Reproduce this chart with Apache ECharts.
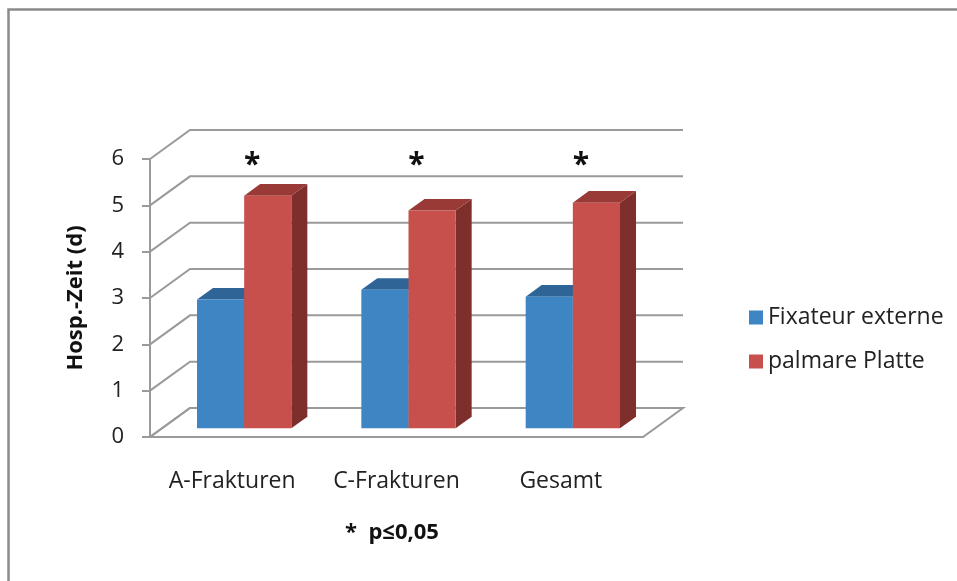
<!DOCTYPE html>
<html>
<head>
<meta charset="utf-8">
<script src="https://cdn.jsdelivr.net/npm/echarts@6/dist/echarts.min.js"></script>
<style>
  html, body { margin: 0; padding: 0; background: #fff; }
  #chart { width: 957px; height: 581px; }
</style>
</head>
<body>
<div id="chart"></div>
<script>
// Hospital stay (days) by fracture type and treatment
const categories = ['A-Frakturen', 'C-Frakturen', 'Gesamt'];
const seriesNames = ['Fixateur externe', 'palmare Platte'];
const fixateurValues = [2.78, 2.99, 2.84];
const platteValues = [5.02, 4.70, 4.87];
const yTicks = [0, 1, 2, 3, 4, 5, 6];
const significant = [true, true, true];
const starLevel = 5.78;
const footnote = '*  p\u22640,05';

// pseudo-3D geometry (pixels / fractions)
const DEPTH_DX = 40, DEPTH_DY = -29;
const BAR_FRONT = 0.3, BAR_BACK = 0.7;
const BAR_RATIO = 0.287;
const FONT = '"Open Sans", "Liberation Sans", sans-serif';
const GRID_COLOR = '#9a9a9a';

const palette = {
  blue: { front: '#3E86C3', top: '#2E6496', side: '#24527C' },
  red:  { front: '#C8504C', top: '#9A3A36', side: '#7E2E2B' }
};

function wallRenderer(params, api) {
  const cs = params.coordSys;
  const v = api.value(1);
  const y = api.coord([0, v])[1];
  const children = [];
  if (v === yTicks[0]) {
    // floor
    children.push({
      type: 'polygon',
      shape: { points: [
        [cs.x, y], [cs.x + cs.width, y],
        [cs.x + cs.width + DEPTH_DX, y + DEPTH_DY], [cs.x + DEPTH_DX, y + DEPTH_DY]
      ] },
      style: { fill: '#fff', stroke: GRID_COLOR, lineWidth: 2 }
    });
  }
  children.push({
    type: 'polyline',
    shape: { points: [
      [cs.x, y], [cs.x + DEPTH_DX, y + DEPTH_DY], [cs.x + cs.width + DEPTH_DX, y + DEPTH_DY]
    ] },
    style: { stroke: GRID_COLOR, lineWidth: 2, fill: null }
  });
  return { type: 'group', children: children };
}

function barRenderer(slot, colors) {
  return function (params, api) {
    const cat = api.value(0), val = api.value(1);
    const base = api.coord([cat, 0]);
    const top = api.coord([cat, val]);
    const band = api.size([1, 0])[0];
    const w = band * BAR_RATIO;
    const xl = base[0] - w + slot * w;
    const xr = xl + w;
    const fx = DEPTH_DX * BAR_FRONT, fy = DEPTH_DY * BAR_FRONT;
    const bx = DEPTH_DX * BAR_BACK, by = DEPTH_DY * BAR_BACK;
    const ty = top[1], by0 = base[1];
    return {
      type: 'group',
      children: [
        { type: 'polygon', shape: { points: [
            [xr + fx, ty + fy], [xr + bx, ty + by], [xr + bx, by0 + by], [xr + fx, by0 + fy]
          ] }, style: { fill: colors.side } },
        { type: 'polygon', shape: { points: [
            [xl + fx, ty + fy], [xr + fx, ty + fy], [xr + bx, ty + by], [xl + bx, ty + by]
          ] }, style: { fill: colors.top } },
        { type: 'rect', shape: { x: xl + fx, y: ty + fy, width: w, height: by0 - ty },
          style: { fill: colors.front } }
      ]
    };
  };
}

function starRenderer(params, api) {
  const p = api.coord([api.value(0), api.value(1)]);
  return {
    type: 'text',
    x: p[0] + DEPTH_DX * 0.5,
    y: p[1] + DEPTH_DY * BAR_FRONT + 5,
    style: {
      text: '*', fill: '#111', font: 'bold 30px ' + FONT,
      align: 'center', verticalAlign: 'middle'
    }
  };
}

const chart = echarts.init(document.getElementById('chart'), null, { renderer: 'canvas' });

chart.setOption({
  backgroundColor: '#fff',
  animation: false,
  grid: { left: 150, right: 314, top: 159, bottom: 144, containLabel: false },
  xAxis: {
    type: 'category',
    data: categories,
    axisLine: { show: true, lineStyle: { color: GRID_COLOR, width: 2 } },
    axisTick: { show: false },
    axisLabel: { color: '#222', fontSize: 23, fontFamily: FONT, margin: 33, interval: 0, hideOverlap: false },
    splitLine: { show: false }
  },
  yAxis: {
    type: 'value',
    min: 0, max: 6, interval: 1,
    name: 'Hosp.-Zeit (d)',
    nameLocation: 'middle',
    nameRotate: 90,
    nameGap: 63,
    nameTextStyle: { color: '#111', fontSize: 22, fontWeight: 'bold', fontFamily: FONT },
    axisLine: { show: true, lineStyle: { color: GRID_COLOR, width: 2 } },
    axisTick: { show: true, length: 8, lineStyle: { color: GRID_COLOR, width: 2 } },
    axisLabel: { color: '#222', fontSize: 22, fontFamily: FONT, margin: 26 },
    splitLine: { show: false }
  },
  legend: {
    orient: 'vertical',
    left: 744,
    top: 301,
    itemWidth: 14,
    itemHeight: 14,
    itemGap: 21,
    icon: 'rect',
    data: seriesNames,
    textStyle: { color: '#222', fontSize: 23, fontFamily: FONT }
  },
  graphic: [
    { type: 'rect', silent: true, z: 100,
      shape: { x: 8.5, y: 9.5, width: 1200, height: 1200 },
      style: { fill: null, stroke: '#8a8a8a', lineWidth: 2.5 } },
    { type: 'text', left: 345, top: 522,
      style: { text: footnote, fill: '#111', font: 'bold 22px ' + FONT } }
  ],
  series: [
    {
      name: 'walls', type: 'custom', silent: true, clip: false,
      renderItem: wallRenderer,
      data: yTicks.map(v => [0, v]),
      encode: { x: 0, y: 1 }
    },
    {
      name: seriesNames[0], type: 'custom', clip: false,
      itemStyle: { color: palette.blue.front },
      renderItem: barRenderer(0, palette.blue),
      data: fixateurValues.map((v, i) => [i, v]),
      encode: { x: 0, y: 1 }
    },
    {
      name: seriesNames[1], type: 'custom', clip: false,
      itemStyle: { color: palette.red.front },
      renderItem: barRenderer(1, palette.red),
      data: platteValues.map((v, i) => [i, v]),
      encode: { x: 0, y: 1 }
    },
    {
      name: 'stars', type: 'custom', silent: true, clip: false,
      renderItem: starRenderer,
      data: categories.map((c, i) => [i, starLevel]).filter((d, i) => significant[i]),
      encode: { x: 0, y: 1 }
    }
  ]
});
</script>
</body>
</html>
